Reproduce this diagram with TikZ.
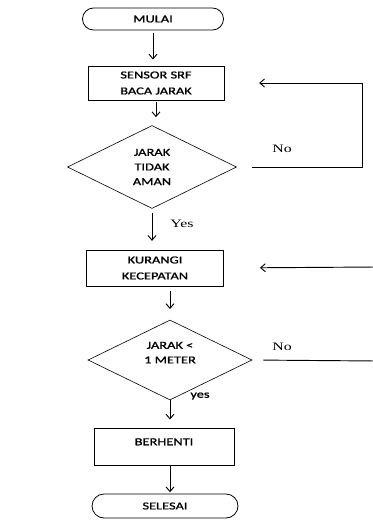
\documentclass[tikz,border=0pt]{standalone}
\usepackage{fontspec}
\newfontfamily\boxfont[FakeStretch=1.35,FakeBold=1.2]{Carlito}
\newfontfamily\labelfont[FakeStretch=1.4]{Liberation Serif}
\usetikzlibrary{shapes.geometric,shapes.misc,arrows.meta}
\tikzset{
   term/.style={rounded rectangle, draw, line width=.6pt, inner sep=0pt,
      font=\boxfont\fontsize{8}{9}\selectfont},
   proc/.style={rectangle, draw, line width=.7pt, align=center, inner sep=0pt,
      font=\boxfont\fontsize{8}{12}\selectfont},
   dec/.style={diamond, draw, line width=.45pt, aspect=2, inner sep=0pt, align=center,
      font=\boxfont\fontsize{8}{11}\selectfont},
   arr/.style={-{Straight Barb[length=3.5pt,width=6pt]}, line width=.7pt},
   lbl/.style={font=\labelfont\fontsize{8.5}{10}\selectfont},
   smalllbl/.style={font=\boxfont\fontsize{8}{9}\selectfont}
}
\begin{document}
\begin{tikzpicture}[x=.75pt,y=-.75pt]
   \path[use as bounding box] (0,0) rectangle (372,521);
   \node[term, minimum width=105.75pt, minimum height=16.5pt] (start) at (153,19) {MULAI};
   \node[proc, minimum width=102pt, minimum height=25.5pt] (box1) at (156,83) {SENSOR SRF\\BACA JARAK};
   \node[dec, minimum width=126.75pt, minimum height=62.25pt] (d1) at (152,167) {JARAK\\TIDAK\\AMAN};
   \node[proc, minimum width=102.75pt, minimum height=27pt] (box2) at (155,268) {KURANGI\\KECEPATAN};
   \node[dec, minimum width=123pt, minimum height=60pt] (d2) at (170,360) {JARAK <\\1 METER\\\mbox{}};
   \node[proc, minimum width=105pt, minimum height=27.75pt] (box3) at (164,446.5) {BERHENTI\\[-5pt]\mbox{}};
   \node[term, minimum width=109.5pt, minimum height=18pt] (end) at (165,506) {SELESAI};
   \draw[arr, shorten <=2pt, shorten >=4.5pt] (start.south) -- (start.south |- box1.north);
   \draw[arr, shorten <=1.5pt, shorten >=6pt] (box1.south) -- (box1.south |- d1.north);
   \draw[arr, shorten <=3pt, shorten >=6.5pt] (d1.south) -- (d1.south |- box2.north);
   \draw[arr, shorten <=3.5pt, shorten >=8pt] (box2.south -| d2.north) -- (d2.north);
   \draw[arr, shorten >=6pt] (d2.south) -- (d2.south |- box3.north);
   \draw[arr, shorten >=1pt] (box3.south -| d2.south) -- (end.north -| d2.south);
   \coordinate (back1) at (362,83);
   \coordinate (back2) at (376,267);
   \coordinate (back3) at (376,361);
   \draw[arr, shorten <=11.25pt, shorten >=26pt] (d1.east) -| (back1) -- (box1.east);
   \draw[arr, shorten >=27pt] (back2) -- (box2.east);
   \draw[line width=.7pt, shorten <=8.25pt] (d2.east) -- (back3);
   \node[lbl] (no1) at (282,149) {No};
   \node[lbl] (yes1) at (182,224) {Yes};
   \node[lbl] (no2) at (282,347) {No};
   \node[smalllbl] (yes2) at (200,396) {yes};
 \end{tikzpicture}
\end{document}
